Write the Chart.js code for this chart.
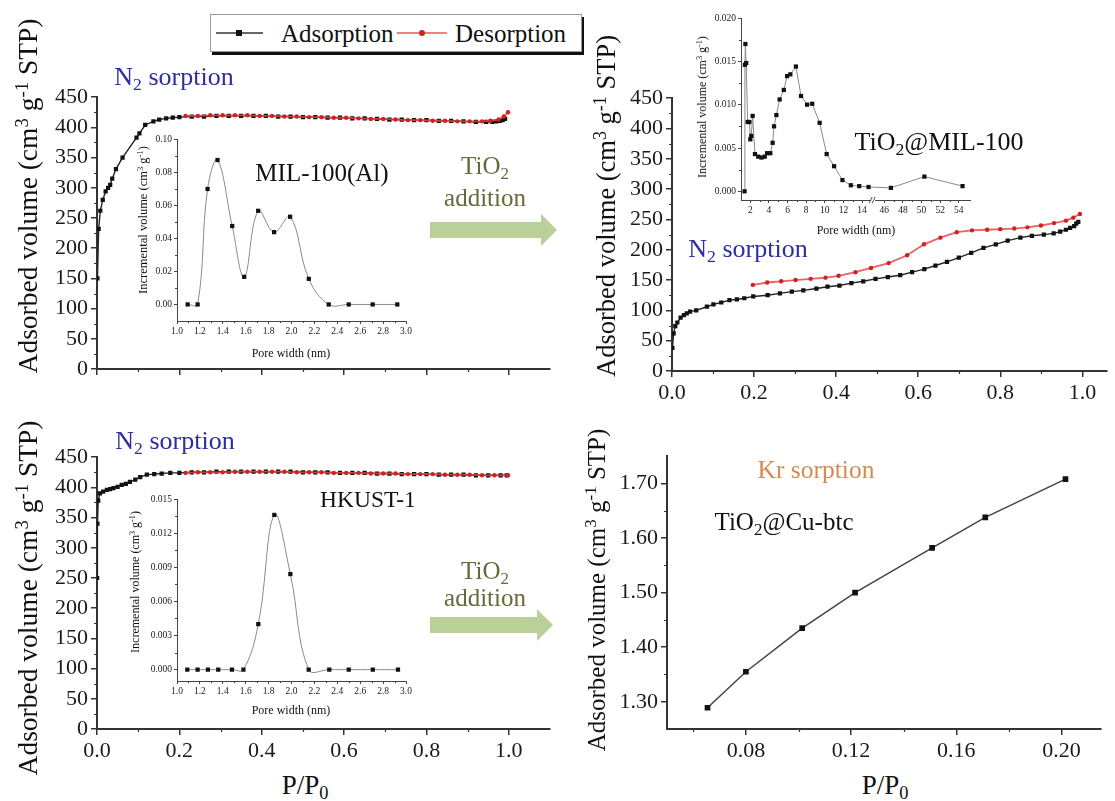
<!DOCTYPE html>
<html>
<head>
<meta charset="utf-8">
<script src="https://cdn.jsdelivr.net/npm/chart.js@4.4.0/dist/chart.umd.min.js"></script>
<style>
  body { margin: 0; background: #fff; }
  #fig { position: relative; width: 1115px; height: 801px; overflow: hidden;
         font-family: 'Liberation Serif', 'Times New Roman', serif; color: #111; }
  #fig canvas { position: absolute; z-index: 1; }
  .t { position: absolute; transform: translate(-50%, -50%); white-space: nowrap; line-height: 1; z-index: 2; }
  .rot { transform: translate(-50%, -50%) rotate(-90deg); }
  sub { font-size: 0.68em; vertical-align: -0.3em; line-height: 0; }
  sup { font-size: 0.68em; vertical-align: 0.5em; line-height: 0; }
  .blue { color: #2e2ea0; }
  .olive { color: #666a3a; }
  #legend { position: absolute; left: 210px; top: 14px; width: 370px; height: 36px; background: #fff;
            border: 1px solid #999; box-shadow: 2px 3px 0 #111; z-index: 2; }
  #legend span { position: absolute; top: 18px; transform: translateY(-50%); font-size: 25px; line-height: 1; }
</style>
</head>
<body>
<div id="fig">
  <svg width="1115" height="801" style="position:absolute;left:0;top:0">
    <polygon points="430,222 541,222 541,214 557,230 541,246 541,238 430,238" fill="#b9d098"/>
    <polygon points="430,617 537,617 537,609 553,625 537,641 537,633 430,633" fill="#b9d098"/>
  </svg>

  <div id="legend">
    <svg width="370" height="36" style="position:absolute;left:0;top:0">
      <line x1="5" y1="18" x2="52" y2="18" stroke="#333" stroke-width="1.5"/>
      <rect x="25" y="15" width="6" height="6" fill="#111"/>
      <line x1="186" y1="18" x2="236" y2="18" stroke="#e8555a" stroke-width="1.5"/>
      <circle cx="211" cy="18" r="3" fill="#d42020"/>
    </svg>
    <span style="left:70px">Adsorption</span>
    <span style="left:244px">Desorption</span>
  </div>

  <!-- axis titles -->
  <div class="t rot" style="left:28px;top:196px;font-size:27.5px">Adsorbed volume (cm<sup>3</sup> g<sup>-1</sup> STP)</div>
  <div class="t rot" style="left:606px;top:206px;font-size:26.5px">Adsorbed volume (cm<sup>3</sup> g<sup>-1</sup> STP)</div>
  <div class="t rot" style="left:28px;top:598px;font-size:27.5px">Adsorbed volume (cm<sup>3</sup> g<sup>-1</sup> STP)</div>
  <div class="t rot" style="left:596px;top:590px;font-size:25px">Adsorbed volume (cm<sup>3</sup> g<sup>-1</sup> STP)</div>
  <div class="t" style="left:305px;top:785px;font-size:27px">P/P<sub>0</sub></div>
  <div class="t" style="left:885px;top:785px;font-size:27px">P/P<sub>0</sub></div>

  <div class="t rot" style="left:143px;top:220px;font-size:12.5px">Incremental volume (cm<sup>3</sup> g<sup>-1</sup>)</div>
  <div class="t rot" style="left:702px;top:107px;font-size:12px">Incremental volume (cm<sup>3</sup> g<sup>-1</sup>)</div>
  <div class="t rot" style="left:135px;top:582px;font-size:12px">Incremental volume (cm<sup>3</sup> g<sup>-1</sup>)</div>
  <div class="t" style="left:291px;top:353px;font-size:12px">Pore width (nm)</div>
  <div class="t" style="left:856px;top:230px;font-size:12px">Pore width (nm)</div>
  <div class="t" style="left:291px;top:710px;font-size:12px">Pore width (nm)</div>

  <!-- panel annotations -->
  <div class="t blue" style="left:174px;top:77px;font-size:26px">N<sub>2</sub> sorption</div>
  <div class="t" style="left:322px;top:172px;font-size:25px">MIL-100(Al)</div>
  <div class="t" style="left:939px;top:142px;font-size:26px">TiO<sub>2</sub>@MIL-100</div>
  <div class="t blue" style="left:748px;top:249px;font-size:26px">N<sub>2</sub> sorption</div>
  <div class="t blue" style="left:175px;top:441px;font-size:26px">N<sub>2</sub> sorption</div>
  <div class="t" style="left:368px;top:500px;font-size:23.5px">HKUST-1</div>
  <div class="t" style="left:816px;top:470px;font-size:25.5px;color:#d68a50">Kr sorption</div>
  <div class="t" style="left:784px;top:521px;font-size:25px">TiO<sub>2</sub>@Cu-btc</div>

  <div class="t olive" style="left:485px;top:165px;font-size:25px">TiO<sub>2</sub></div>
  <div class="t olive" style="left:485px;top:197px;font-size:25px">addition</div>
  <div class="t olive" style="left:485px;top:570px;font-size:25px">TiO<sub>2</sub></div>
  <div class="t olive" style="left:485px;top:597px;font-size:25px">addition</div>
</div>

<script>
// ---------- isotherm data (P/P0, cm3 g-1 STP) ----------
// MIL-100(Al), N2
const milAdsP = [0.001, 0.004, 0.008, 0.014, 0.021, 0.027, 0.032, 0.037, 0.046, 0.062,
  0.096, 0.103, 0.117, 0.137, 0.151, 0.168, 0.184, 0.20, 0.23, 0.26, 0.29, 0.32, 0.35, 0.38,
  0.41, 0.44, 0.47, 0.50, 0.53, 0.56, 0.59, 0.62, 0.65, 0.68, 0.71, 0.74, 0.77, 0.80, 0.83,
  0.86, 0.89, 0.92, 0.945, 0.96, 0.97, 0.978, 0.985, 0.991];
const milAdsV = [150, 232, 262, 280, 294, 300, 305, 315, 331, 350,
  383, 390, 404, 410, 413, 415, 416, 417, 418, 418, 419, 419, 419, 419,
  419, 418, 418, 417, 417, 416, 416, 415, 415, 414, 413, 413, 412, 412, 411,
  411, 410, 409, 409, 409, 410, 411, 412, 414];
const milDesP = [0.998, 0.988, 0.975, 0.955, 0.935, 0.905, 0.875, 0.845, 0.815, 0.785,
  0.755, 0.725, 0.695, 0.665, 0.635, 0.605, 0.575, 0.545, 0.515, 0.485,
  0.455, 0.425, 0.395, 0.365, 0.335, 0.305, 0.275, 0.245, 0.215];
const milDesV = [425, 418, 413, 411, 410, 410, 410, 411, 411, 412,
  412, 413, 414, 414, 415, 416, 416, 417, 417, 418,
  418, 419, 419, 420, 420, 420, 420, 419, 419];

// TiO2@MIL-100, N2
const tiAdsP = [0.001, 0.004, 0.008, 0.013, 0.021, 0.029, 0.036, 0.044, 0.059, 0.085,
  0.101, 0.12, 0.14, 0.158, 0.176, 0.198, 0.233, 0.263, 0.292, 0.32,
  0.352, 0.379, 0.408, 0.437, 0.466, 0.496, 0.526, 0.556, 0.585, 0.615,
  0.642, 0.67, 0.699, 0.729, 0.759, 0.789, 0.818, 0.849, 0.877, 0.906,
  0.93, 0.946, 0.96, 0.97, 0.98, 0.985, 0.99];
const tiAdsV = [38, 62, 74, 80, 88, 92, 95, 98, 100, 106,
  110, 113, 117, 118, 120, 123, 125, 128, 131, 133,
  136, 139, 141, 145, 148, 152, 155, 158, 163, 168,
  174, 180, 187, 195, 203, 209, 215, 220, 223, 225,
  227, 230, 233, 236, 239, 243, 246];
const tiDesP = [0.994, 0.978, 0.96, 0.931, 0.899, 0.866, 0.834, 0.8, 0.768, 0.731,
  0.694, 0.654, 0.614, 0.573, 0.528, 0.485, 0.447, 0.406, 0.374, 0.338,
  0.301, 0.266, 0.232, 0.197];
const tiDesV = [259, 253, 248, 244, 240, 237, 235, 234, 233, 232,
  229, 220, 209, 191, 178, 170, 163, 157, 154, 152,
  150, 148, 146, 142];

// HKUST-1, N2
const hkAdsP = [0.0003, 0.001, 0.003, 0.007, 0.015, 0.024, 0.032, 0.04, 0.05, 0.06,
  0.07, 0.08, 0.093, 0.105, 0.121, 0.139, 0.157, 0.178, 0.20, 0.23,
  0.26, 0.29, 0.32, 0.35, 0.38, 0.41, 0.44, 0.47, 0.50, 0.53,
  0.56, 0.59, 0.62, 0.65, 0.68, 0.71, 0.74, 0.77, 0.80, 0.83,
  0.86, 0.89, 0.92, 0.95, 0.98, 0.995];
const hkAdsV = [250, 340, 378, 390, 393, 396, 397, 399, 401, 404,
  406, 409, 413, 417, 421, 422, 423, 424, 424, 425,
  425, 426, 426, 426, 426, 426, 426, 426, 425, 425,
  425, 424, 424, 424, 423, 423, 422, 422, 422, 421,
  421, 421, 420, 420, 420, 420];
const hkDesP = [0.998, 0.965, 0.935, 0.905, 0.875, 0.845, 0.815, 0.785, 0.755, 0.725,
  0.695, 0.665, 0.635, 0.605, 0.575, 0.545, 0.515, 0.485, 0.455, 0.425,
  0.395, 0.365, 0.335, 0.305, 0.275, 0.245, 0.215];
const hkDesV = [420, 420, 420, 421, 421, 421, 422, 422, 422, 423,
  423, 423, 424, 424, 424, 425, 425, 425, 426, 426,
  426, 426, 426, 425, 425, 425, 424];

// TiO2@Cu-btc, Kr
const krP = [0.0654, 0.080, 0.1014, 0.1215, 0.1508, 0.171, 0.2015];
const krV = [1.289, 1.355, 1.435, 1.500, 1.582, 1.638, 1.708];

// ---------- pore size distributions (nm, cm3 g-1) ----------
const milPore = [1.093, 1.18, 1.267, 1.354, 1.482, 1.587, 1.709, 1.848, 1.988, 2.151, 2.325, 2.50, 2.709, 2.924];
const milInc  = [0, 0, 0.0698, 0.0873, 0.0474, 0.0167, 0.0566, 0.0437, 0.0530, 0.0155, 0, 0, 0, 0];

const tiPore = [1.38, 1.42, 1.47, 1.56, 1.72, 1.90, 2.00, 2.10, 2.25, 2.50,
  2.85, 3.20, 3.55, 3.80, 4.15, 4.40, 4.55, 4.80, 5.15, 5.60,
  5.95, 6.30, 6.90, 7.45, 8.10, 8.65, 9.45, 10.2, 11.0, 11.9,
  12.8, 13.7, 14.7, 46.7, 50.3, 54.4];
const tiInc = [0, 0.0146, 0.0170, 0.0148, 0.0080, 0.0080, 0.0060, 0.0064, 0.0087, 0.0043,
  0.0040, 0.0039, 0.0040, 0.0044, 0.0044, 0.0056, 0.0075, 0.0088, 0.0106, 0.0117,
  0.0133, 0.0135, 0.0144, 0.0110, 0.0100, 0.0101, 0.0079, 0.0043, 0.0029, 0.0013,
  0.0007, 0.0006, 0.0005, 0.0004, 0.0017, 0.0006];

const hkPore = [1.09, 1.18, 1.27, 1.36, 1.48, 1.58, 1.71, 1.85, 1.99, 2.15, 2.33, 2.50, 2.71, 2.93];
const hkInc  = [0, 0, 0, 0, 0, 0, 0.0040, 0.0136, 0.0084, 0, 0, 0, 0, 0];

// ---------- tick labels ----------
const isoXTicks = [0, 0.2, 0.4, 0.6, 0.8, 1.0];
const isoXMinor = [0.1, 0.3, 0.5, 0.7, 0.9];
const isoYTicks = [0, 50, 100, 150, 200, 250, 300, 350, 400, 450];
const isoYMinor = [25, 75, 125, 175, 225, 275, 325, 375, 425];
const krXTicks = [0.08, 0.12, 0.16, 0.20];
const krXMinor = [0.06, 0.10, 0.14, 0.18];
const krYTicks = [1.30, 1.40, 1.50, 1.60, 1.70];
const krYMinor = [1.35, 1.45, 1.55, 1.65];
const psdXTicks = [1.0, 1.2, 1.4, 1.6, 1.8, 2.0, 2.2, 2.4, 2.6, 2.8, 3.0];
const psdXMinor = [1.1, 1.3, 1.5, 1.7, 1.9, 2.1, 2.3, 2.5, 2.7, 2.9];
const milYTicks = [0, 0.02, 0.04, 0.06, 0.08, 0.10];
const milYMinor = [0.01, 0.03, 0.05, 0.07, 0.09];
const tiXTicks = [2, 4, 6, 8, 10, 12, 14, 46, 48, 50, 52, 54];
const tiXMinor = [3, 5, 7, 9, 11, 13, 47, 49, 51, 53];
const tiYTicks = [0, 0.005, 0.010, 0.015, 0.020];
const tiYMinor = [0.0025, 0.0075, 0.0125, 0.0175];
const hkYTicks = [0, 0.003, 0.006, 0.009, 0.012, 0.015];
const hkYMinor = [0.0015, 0.0045, 0.0075, 0.0105, 0.0135];

// broken pore-width axis: 1-15 nm, then 45-55 nm
const tiAxis = w => (w < 30 ? w : w - 29.6);

// ---------- helpers ----------
const fig = document.getElementById('fig');
Chart.defaults.font.family = "'Liberation Serif', 'Times New Roman', serif";
Chart.defaults.color = '#1a1a1a';

const pts = (xs, ys, map) => xs.map((x, i) => ({ x: map ? map(x) : x, y: ys[i] }));

// small unlabeled ticks between the major ones
const minorTicks = {
  id: 'minorTicks',
  afterDatasetsDraw(chart, args, o) {
    if (!o || !o.len) return;
    const { ctx, scales: { x, y } } = chart;
    ctx.save();
    ctx.strokeStyle = o.color;
    ctx.lineWidth = o.width;
    ctx.beginPath();
    (o.x || []).forEach(v => {
      const px = Math.round(x.getPixelForValue(o.xmap ? o.xmap(v) : v)) + 0.5;
      ctx.moveTo(px, x.top);
      ctx.lineTo(px, x.top + o.len);
    });
    (o.y || []).forEach(v => {
      const py = Math.round(y.getPixelForValue(v)) + 0.5;
      ctx.moveTo(y.right, py);
      ctx.lineTo(y.right - o.len, py);
    });
    ctx.stroke();
    ctx.restore();
  }
};

// "//" mark on a broken x axis
const axisBreak = {
  id: 'axisBreak',
  afterDraw(chart, args, o) {
    if (!o || o.at == null) return;
    const { ctx, scales: { x } } = chart;
    const px = x.getPixelForValue(o.at);
    const y0 = x.top;
    ctx.save();
    ctx.fillStyle = '#fff';
    ctx.fillRect(px - 2, y0 - 3, 4, 6);
    ctx.strokeStyle = '#555';
    ctx.lineWidth = 1;
    ctx.beginPath();
    ctx.moveTo(px - 4, y0 + 3); ctx.lineTo(px - 1, y0 - 3);
    ctx.moveTo(px - 1, y0 + 3); ctx.lineTo(px + 2, y0 - 3);
    ctx.stroke();
    ctx.restore();
  }
};

function axis(o, size) {
  return {
    type: 'linear', min: o.min, max: o.max,
    afterFit: s => { if (s.isHorizontal()) s.height = size; else s.width = size; },
    afterBuildTicks: s => { s.ticks = o.ticks.map(v => ({ value: o.map ? o.map(v) : v })); },
    grid: { drawOnChartArea: false, drawTicks: true, tickLength: o.tl, color: o.color, lineWidth: o.tw },
    border: { display: true, color: o.color, width: o.bw },
    ticks: {
      autoSkip: false, maxRotation: 0, padding: o.pad, font: { size: o.fs }, color: '#1a1a1a',
      callback: (v, i) => (o.fmt ? o.fmt(o.ticks[i]) : '')
    }
  };
}

// area = plot rectangle in page pixels, pad = room around it for axes
function panel(area, pad, datasets, xo, yo, minor, brk) {
  const cv = document.createElement('canvas');
  cv.width = area.r - area.l + pad.l + pad.r;
  cv.height = area.b - area.t + pad.t + pad.b;
  cv.style.left = (area.l - pad.l) + 'px';
  cv.style.top = (area.t - pad.t) + 'px';
  fig.appendChild(cv);
  return new Chart(cv, {
    type: 'line',
    data: { datasets },
    options: {
      responsive: false, animation: false, events: [],
      layout: { padding: { top: pad.t, right: pad.r, left: 0, bottom: 0 } },
      scales: { x: axis(xo, pad.b), y: axis(yo, pad.l) },
      plugins: {
        legend: { display: false }, tooltip: { enabled: false },
        minorTicks: minor, axisBreak: brk || {}
      }
    },
    plugins: [minorTicks, axisBreak]
  });
}

const mainStyle = { color: '#333', bw: 2, tw: 1.5, tl: 6, fs: 22, pad: 3 };
const insetStyle = { color: '#444', bw: 1, tw: 1, tl: 3, fs: 9.5, pad: 2 };
const mainMinor = { len: 3, color: '#333', width: 1.2 };
const insetMinor = { len: 2, color: '#444', width: 1 };

const adsSet = d => ({ data: d, borderColor: '#222', borderWidth: 1.4, pointStyle: 'rect', pointRadius: 3,
  pointBackgroundColor: '#111', pointBorderWidth: 0, tension: 0 });
const desSet = d => ({ data: d, borderColor: 'rgba(228, 70, 80, 0.85)', borderWidth: 1.8, pointStyle: 'circle', pointRadius: 2.2,
  pointBackgroundColor: '#d42020', pointBorderWidth: 0, tension: 0 });
const psdSet = (d, t) => ({ data: d, borderColor: '#8a8a8a', borderWidth: 1, pointStyle: 'rect', pointRadius: 3,
  pointBackgroundColor: '#111', pointBorderWidth: 0, tension: t, clip: false });

const f1 = v => v.toFixed(1);
const f0 = v => String(v);

// ---------- top left: MIL-100(Al) ----------
panel({ l: 97, t: 95, r: 550, b: 369 }, { l: 60, t: 14, r: 12, b: 24 },
  [desSet(pts(milDesP, milDesV)), adsSet(pts(milAdsP, milAdsV))],
  { ...mainStyle, min: 0, max: 1.1, ticks: isoXTicks },
  { ...mainStyle, min: 0, max: 450, ticks: isoYTicks, fmt: f0 },
  { ...mainMinor, x: isoXMinor, y: isoYMinor });

// ---------- top right: TiO2@MIL-100 ----------
panel({ l: 672, t: 96, r: 1107, b: 371 }, { l: 60, t: 14, r: 8, b: 40 },
  [desSet(pts(tiDesP, tiDesV)), adsSet(pts(tiAdsP, tiAdsV))],
  { ...mainStyle, min: 0, max: 1.06, ticks: isoXTicks, fmt: f1 },
  { ...mainStyle, min: 0, max: 450, ticks: isoYTicks, fmt: f0 },
  { ...mainMinor, x: isoXMinor, y: isoYMinor });

// ---------- bottom left: HKUST-1 ----------
panel({ l: 97, t: 455, r: 550, b: 729 }, { l: 60, t: 14, r: 12, b: 40 },
  [desSet(pts(hkDesP, hkDesV)), adsSet(pts(hkAdsP, hkAdsV))],
  { ...mainStyle, min: 0, max: 1.1, ticks: isoXTicks, fmt: f1 },
  { ...mainStyle, min: 0, max: 450, ticks: isoYTicks, fmt: f0 },
  { ...mainMinor, x: isoXMinor, y: isoYMinor });

// ---------- bottom right: Kr on TiO2@Cu-btc ----------
panel({ l: 667, t: 454, r: 1101, b: 729 }, { l: 64, t: 14, r: 12, b: 40 },
  [{ data: pts(krP, krV), borderColor: '#444', borderWidth: 1.5, pointStyle: 'rect', pointRadius: 4,
     pointBackgroundColor: '#111', pointBorderWidth: 0, tension: 0 }],
  { ...mainStyle, min: 0.05, max: 0.215, ticks: krXTicks, fmt: v => v.toFixed(2) },
  { ...mainStyle, min: 1.25, max: 1.75, ticks: krYTicks, fmt: v => v.toFixed(2) },
  { ...mainMinor, x: krXMinor, y: krYMinor });

// ---------- insets: pore size distributions ----------
panel({ l: 177, t: 139, r: 406, b: 321 }, { l: 36, t: 8, r: 12, b: 16 },
  [psdSet(pts(milPore, milInc), 0.4)],
  { ...insetStyle, min: 1.0, max: 3.0, ticks: psdXTicks, fmt: f1 },
  { ...insetStyle, min: -0.01, max: 0.10, ticks: milYTicks, fmt: v => v.toFixed(2) },
  { ...insetMinor, x: psdXMinor, y: milYMinor });

panel({ l: 741, t: 18, r: 970, b: 200 }, { l: 40, t: 8, r: 12, b: 16 },
  [psdSet(pts(tiPore, tiInc, tiAxis), 0)],
  { ...insetStyle, min: 1, max: 25.6, ticks: tiXTicks, map: tiAxis, fmt: f0 },
  { ...insetStyle, min: -0.001, max: 0.020, ticks: tiYTicks, fmt: v => v.toFixed(3) },
  { ...insetMinor, x: tiXMinor, xmap: tiAxis, y: tiYMinor },
  { at: 15.2 });

panel({ l: 177, t: 499, r: 406, b: 681 }, { l: 40, t: 8, r: 12, b: 16 },
  [psdSet(pts(hkPore, hkInc), 0.4)],
  { ...insetStyle, min: 1.0, max: 3.0, ticks: psdXTicks, fmt: f1 },
  { ...insetStyle, min: -0.001, max: 0.015, ticks: hkYTicks, fmt: v => v.toFixed(3) },
  { ...insetMinor, x: psdXMinor, y: hkYMinor });
</script>
</body>
</html>
